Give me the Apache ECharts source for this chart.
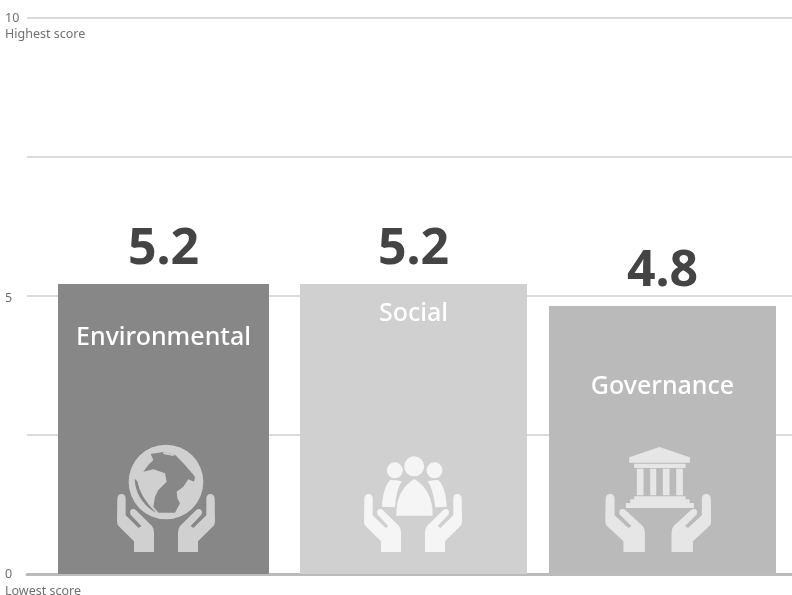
<!DOCTYPE html>
<html><head><meta charset="utf-8">
<style>html,body{margin:0;padding:0;background:#fff}#c{width:792px;height:595px}</style>
<script src="https://cdn.jsdelivr.net/npm/echarts@6/dist/echarts.min.js"></script>
</head><body><div id="c"></div>
<script>
const categories = ['Environmental', 'Social', 'Governance'];
const scores = [5.2, 5.2, 4.8];
const tickLabels = { 0: '0', 5: '{m|5}', 10: '10' };
const minCaption = 'Lowest score';
const maxCaption = 'Highest score';

const barColors = ['#878787', '#d0d0d0', '#bababa'];
const iconColors = ['#d0d0d0', '#f5f5f5', '#e6e6e6'];
const widthFrac = [211 / 255, 227 / 255, 227 / 255];
const shiftFrac = [9 / 255, 4 / 255, -2 / 255];
const nameDrop = [54, 30, 81];
const iconDx = [2.5, -0.5, -4.3];
const handInner = [36, 36, 40];
const handSpread = [1, 1, 1.07];

// hand outline: [command, |x|, y, ...] with x measured outward from the icon centre
const handShape = [
  ['M', 36, 0], ['L', 96, 0], ['L', 96, -32], ['L', 143, -79], ['Q', 147, -84, 147, -94], ['L', 146, -160],
  ['Q', 145, -174, 133, -174], ['Q', 122, -174, 121, -160], ['L', 121, -110], ['L', 82, -72], ['L', 74, -78],
  ['L', 106, -112], ['Q', 111, -122, 103, -128], ['Q', 96, -131, 90, -125], ['L', 42, -78], ['Q', 36, -70, 36, -58]
];
function hand(sign, inner, spread) {
  const X = x => sign * (inner + (x - 36) * spread);
  return handShape.map(s => s.length === 3 ? s[0] + X(s[1]) + ' ' + s[2]
    : s[0] + X(s[1]) + ' ' + s[2] + ' ' + X(s[3]) + ' ' + s[4]).join('') + 'Z';
}
const circle = (cx, cy, r) => `M${cx-r} ${cy}A${r} ${r} 0 1 1 ${cx+r} ${cy}A${r} ${r} 0 1 1 ${cx-r} ${cy}Z`;
const rectP = (x0, x1, y0, y1) => `M${x0} ${y0}L${x1} ${y0}L${x1} ${y1}L${x0} ${y1}Z`;
const anchors = 'M-180 -360L-180 -360M180 0L180 0';

const art = [
  { light: circle(0, -210, 112),
    dark: 'M-46 -294L-38 -276L-53 -261L-68 -241L-38 -248L-3 -236L2 -211L-23 -186L-33 -166L-38 -136L-23 -118L27 -118L42 -146L34 -161L32 -181L52 -196L67 -218L84 -211L87 -226L57 -261L27 -292L-8 -300Z' +
          'M-94 -220Q-92 -160 -38 -122L-30 -118Q-78 -165 -86 -212Z',
    top: 'M-8 -300L27 -292L22 -288L-8 -294Z' },
  { light: circle(3.5, -257, 30) + circle(-54.5, -245, 24) + circle(64.5, -245, 24) +
           'M-50 -109L59 -109Q60 -185 4 -219Q-52 -185 -50 -109Z' +
           'M-93 -136Q-90 -195 -68 -216Q-50 -216 -33 -212Q-50 -190 -54 -134Z' +
           'M101 -136Q98 -195 76 -216Q58 -216 44 -212Q60 -190 67 -134Z',
    dark: '', top: '' },
  { light: 'M4 -315L95 -284L95 -268L-87 -268L-87 -284Z' +
           rectP(-72, 82, -265, -252) +
           rectP(-64, -44, -250, -170) + rectP(-24, -6, -250, -170) + rectP(14, 34, -250, -170) + rectP(54, 74, -250, -170) +
           rectP(-72, 82, -167, -158) + rectP(-84, 94, -158, -147) + rectP(-97, 107, -147, -132),
    dark: '', top: '' }
];

const chart = echarts.init(document.getElementById('c'), null, { renderer: 'canvas' });
const FONT = '"Noto Sans", "Open Sans", sans-serif';
const barRaise = 1;

function renderItem(params, api) {
  const i = params.dataIndex;
  const p = api.coord([i, api.value(1)]);
  const base = api.coord([i, 0]);
  const band = api.size([1, 0])[0];
  const w = band * widthFrac[i];
  const cx = p[0] + band * shiftFrac[i];
  const left = cx - w / 2;
  const top = p[1] - barRaise;
  const box = (d, fill) => ({
    type: 'path',
    shape: { pathData: anchors + d, layout: 'cover', x: cx + iconDx[i] - 60, y: base[1] - 22 - 120, width: 120, height: 120 },
    style: { fill }
  });
  const children = [
    { type: 'rect', shape: { x: left, y: top, width: w, height: base[1] - top }, style: { fill: barColors[i] } },
    box(hand(-1, handInner[i], handSpread[i]) + hand(1, handInner[i], handSpread[i]) + art[i].light, iconColors[i])
  ];
  if (art[i].dark) children.push(box(art[i].dark, barColors[i]));
  if (art[i].top) children.push(box(art[i].top, iconColors[i]));
  children.push(
    { type: 'text', style: { text: categories[i], x: cx, y: top + nameDrop[i], align: 'center', verticalAlign: 'middle',
        fill: '#fff', font: '500 25px ' + FONT } },
    { type: 'text', style: { text: scores[i].toFixed(1), x: cx, y: top - 34, align: 'center', verticalAlign: 'middle',
        fill: '#444444', font: '700 50px ' + FONT } }
  );
  return { type: 'group', children };
}

chart.setOption({
  animation: false,
  backgroundColor: '#fff',
  grid: { left: 27, right: 0, top: 18, bottom: 21 },
  xAxis: { type: 'category', data: categories, axisLine: { show: true, onZero: false, lineStyle: { color: '#bbbbbb', width: 3 } },
    axisTick: { show: false }, axisLabel: { show: false } },
  yAxis: { type: 'value', min: 0, max: 10, interval: 2.5,
    axisLine: { show: false }, axisTick: { show: false },
    splitLine: { lineStyle: { color: '#dadada', width: 2 } },
    axisLabel: { margin: 22, align: 'left', color: '#707070', fontSize: 12.5, fontFamily: FONT,
      formatter: v => tickLabels[v] || '',
      rich: { m: { padding: [4, 0, 0, 0], color: '#707070', fontSize: 12.5, fontFamily: FONT } } } },
  series: [{ type: 'custom', renderItem, clip: false, data: scores.map((s, i) => [i, s]), encode: { x: 0, y: 1 } }],
  graphic: [
    { type: 'text', left: 5, top: 28, style: { text: maxCaption, fill: '#707070', font: '12.5px ' + FONT } },
    { type: 'text', left: 5, top: 585, style: { text: minCaption, fill: '#707070', font: '12.5px ' + FONT } }
  ]
});
</script></body></html>
